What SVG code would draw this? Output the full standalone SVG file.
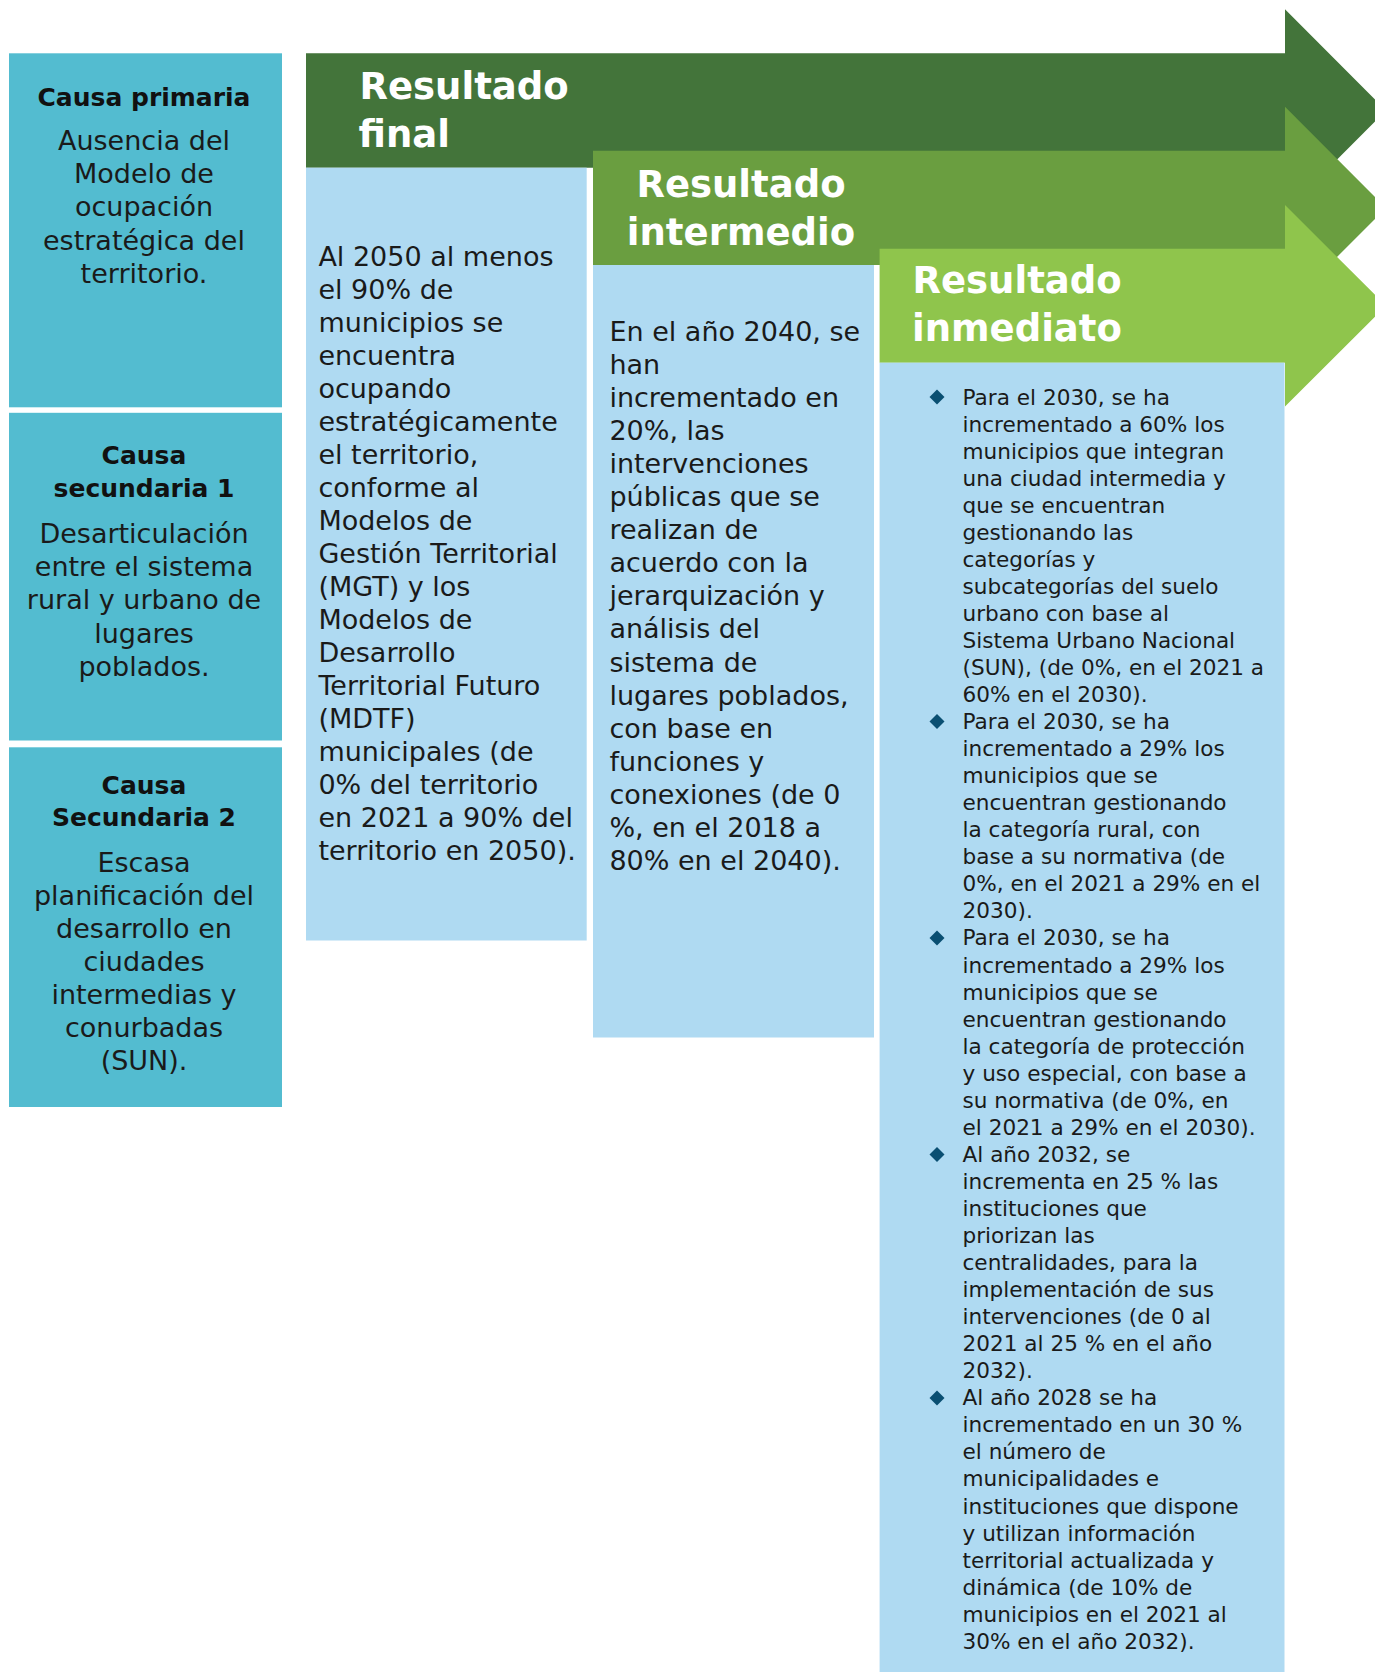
<svg xmlns="http://www.w3.org/2000/svg" width="1375" height="1672" viewBox="0 0 1375 1672">
<style>
.cause{fill:#53BCD0}
.blue{fill:#AFDAF2}
.g1{fill:#43743A}
.g2{fill:#6A9E40}
.g3{fill:#8FC54C}
.ch{font-family:'DejaVu Sans',sans-serif;font-weight:bold;font-size:25px;fill:#111;text-anchor:middle}
.cb{font-family:'DejaVu Sans',sans-serif;font-size:27px;fill:#1a1a1a;text-anchor:middle}
.hd{font-family:'DejaVu Sans',sans-serif;font-weight:bold;font-size:37px;fill:#fff}
.bd{font-family:'DejaVu Sans',sans-serif;font-size:27px;fill:#1a1a1a}
.bl{font-family:'DejaVu Sans',sans-serif;font-size:21.6px;fill:#1a1a1a}
.dm{fill:#0A4F72}
</style>
<defs>
<path id="diamond" d="M0,-7.5 L7.5,0 L0,7.5 L-7.5,0 Z"/>
</defs>
<rect width="1375" height="1672" fill="#fff"/>

<g id="causa-primaria">
<rect class="cause" x="9" y="53.3" width="273" height="354"/>
<text class="ch" x="144" y="106">Causa primaria</text>
<text class="cb"><tspan x="144" y="150">Ausencia del</tspan><tspan x="144" dy="33.2">Modelo de</tspan><tspan x="144" dy="33.2">ocupación</tspan><tspan x="144" dy="33.2">estratégica del</tspan><tspan x="144" dy="33.2">territorio.</tspan></text>
</g>

<g id="causa-secundaria-1">
<rect class="cause" x="9" y="412.8" width="273" height="327.7"/>
<text class="ch"><tspan x="144" y="464.3">Causa</tspan><tspan x="144" dy="33">secundaria 1</tspan></text>
<text class="cb"><tspan x="144" y="543.2">Desarticulación</tspan><tspan x="144" dy="33.1">entre el sistema</tspan><tspan x="144" dy="33.1">rural y urbano de</tspan><tspan x="144" dy="33.1">lugares</tspan><tspan x="144" dy="33.1">poblados.</tspan></text>
</g>

<g id="causa-secundaria-2">
<rect class="cause" x="9" y="747.3" width="273" height="359.7"/>
<text class="ch"><tspan x="144" y="793.5">Causa</tspan><tspan x="144" dy="32.5">Secundaria 2</tspan></text>
<text class="cb"><tspan x="144" y="871.5">Escasa</tspan><tspan x="144" dy="33.1">planificación del</tspan><tspan x="144" dy="33.1">desarrollo en</tspan><tspan x="144" dy="33.1">ciudades</tspan><tspan x="144" dy="33.1">intermedias y</tspan><tspan x="144" dy="33.1">conurbadas</tspan><tspan x="144" dy="33.1">(SUN).</tspan></text>
</g>

<g id="resultado-final">
<polygon class="g1" points="306,53.3 1285,53.3 1285,9.3 1386,110.5 1285,211.7 1285,167.7 306,167.7"/>
<rect class="blue" x="306" y="167.7" width="280.7" height="772.8"/>
<text class="hd"><tspan x="359.5" y="99.3">Resultado</tspan><tspan x="358.5" y="146.7">final</tspan></text>
<text class="bd"><tspan x="318.4" y="265.7">Al 2050 al menos</tspan><tspan x="318.4" dy="33.04">el 90% de</tspan><tspan x="318.4" dy="33.04">municipios se</tspan><tspan x="318.4" dy="33.04">encuentra</tspan><tspan x="318.4" dy="33.04">ocupando</tspan><tspan x="318.4" dy="33.04">estratégicamente</tspan><tspan x="318.4" dy="33.04">el territorio,</tspan><tspan x="318.4" dy="33.04">conforme al</tspan><tspan x="318.4" dy="33.04">Modelos de</tspan><tspan x="318.4" dy="33.04">Gestión Territorial</tspan><tspan x="318.4" dy="33.04">(MGT) y los</tspan><tspan x="318.4" dy="33.04">Modelos de</tspan><tspan x="318.4" dy="33.04">Desarrollo</tspan><tspan x="318.4" dy="33.04">Territorial Futuro</tspan><tspan x="318.4" dy="33.04">(MDTF)</tspan><tspan x="318.4" dy="33.04">municipales (de</tspan><tspan x="318.4" dy="33.04">0% del territorio</tspan><tspan x="318.4" dy="33.04">en 2021 a 90% del</tspan><tspan x="318.4" dy="33.04">territorio en 2050).</tspan></text>
</g>

<g id="resultado-intermedio">
<polygon class="g2" points="593,150.7 1285,150.7 1285,106.7 1386,207.9 1285,309.1 1285,265 593,265"/>
<rect class="blue" x="593" y="265" width="281" height="772.5"/>
<text class="hd" text-anchor="middle"><tspan x="741" y="197.3">Resultado</tspan><tspan x="741" y="245">intermedio</tspan></text>
<text class="bd"><tspan x="609.4" y="341.2">En el año 2040, se</tspan><tspan x="609.4" dy="33.03">han</tspan><tspan x="609.4" dy="33.03">incrementado en</tspan><tspan x="609.4" dy="33.03">20%, las</tspan><tspan x="609.4" dy="33.03">intervenciones</tspan><tspan x="609.4" dy="33.03">públicas que se</tspan><tspan x="609.4" dy="33.03">realizan de</tspan><tspan x="609.4" dy="33.03">acuerdo con la</tspan><tspan x="609.4" dy="33.03">jerarquización y</tspan><tspan x="609.4" dy="33.03">análisis del</tspan><tspan x="609.4" dy="33.03">sistema de</tspan><tspan x="609.4" dy="33.03">lugares poblados,</tspan><tspan x="609.4" dy="33.03">con base en</tspan><tspan x="609.4" dy="33.03">funciones y</tspan><tspan x="609.4" dy="33.03">conexiones (de 0</tspan><tspan x="609.4" dy="33.03">%, en el 2018 a</tspan><tspan x="609.4" dy="33.03">80% en el 2040).</tspan></text>
</g>

<g id="resultado-inmediato">
<polygon class="g3" points="879.6,248.7 1285,248.7 1285,205 1386,305.8 1285,406.6 1285,362.7 879.6,362.7"/>
<rect class="blue" x="879.6" y="362.7" width="404.9" height="1309.3"/>
<text class="hd"><tspan x="912.5" y="293.3">Resultado</tspan><tspan x="912" y="340.7">inmediato</tspan></text>
<use href="#diamond" class="dm" x="937" y="397"/>
<use href="#diamond" class="dm" x="937" y="721.6"/>
<use href="#diamond" class="dm" x="937" y="938"/>
<use href="#diamond" class="dm" x="937" y="1154.4"/>
<use href="#diamond" class="dm" x="937" y="1397.9"/>
<text class="bl"><tspan x="962.5" y="404.5">Para el 2030, se ha</tspan><tspan x="962.5" dy="27.05">incrementado a 60% los</tspan><tspan x="962.5" dy="27.05">municipios que integran</tspan><tspan x="962.5" dy="27.05">una ciudad intermedia y</tspan><tspan x="962.5" dy="27.05">que se encuentran</tspan><tspan x="962.5" dy="27.05">gestionando las</tspan><tspan x="962.5" dy="27.05">categorías y</tspan><tspan x="962.5" dy="27.05">subcategorías del suelo</tspan><tspan x="962.5" dy="27.05">urbano con base al</tspan><tspan x="962.5" dy="27.05">Sistema Urbano Nacional</tspan><tspan x="962.5" dy="27.05">(SUN), (de 0%, en el 2021 a</tspan><tspan x="962.5" dy="27.05">60% en el 2030).</tspan><tspan x="962.5" dy="27.05">Para el 2030, se ha</tspan><tspan x="962.5" dy="27.05">incrementado a 29% los</tspan><tspan x="962.5" dy="27.05">municipios que se</tspan><tspan x="962.5" dy="27.05">encuentran gestionando</tspan><tspan x="962.5" dy="27.05">la categoría rural, con</tspan><tspan x="962.5" dy="27.05">base a su normativa (de</tspan><tspan x="962.5" dy="27.05">0%, en el 2021 a 29% en el</tspan><tspan x="962.5" dy="27.05">2030).</tspan><tspan x="962.5" dy="27.05">Para el 2030, se ha</tspan><tspan x="962.5" dy="27.05">incrementado a 29% los</tspan><tspan x="962.5" dy="27.05">municipios que se</tspan><tspan x="962.5" dy="27.05">encuentran gestionando</tspan><tspan x="962.5" dy="27.05">la categoría de protección</tspan><tspan x="962.5" dy="27.05">y uso especial, con base a</tspan><tspan x="962.5" dy="27.05">su normativa (de 0%, en</tspan><tspan x="962.5" dy="27.05">el 2021 a 29% en el 2030).</tspan><tspan x="962.5" dy="27.05">Al año 2032, se</tspan><tspan x="962.5" dy="27.05">incrementa en 25 % las</tspan><tspan x="962.5" dy="27.05">instituciones que</tspan><tspan x="962.5" dy="27.05">priorizan las</tspan><tspan x="962.5" dy="27.05">centralidades, para la</tspan><tspan x="962.5" dy="27.05">implementación de sus</tspan><tspan x="962.5" dy="27.05">intervenciones (de 0 al</tspan><tspan x="962.5" dy="27.05">2021 al 25 % en el año</tspan><tspan x="962.5" dy="27.05">2032).</tspan><tspan x="962.5" dy="27.05">Al año 2028 se ha</tspan><tspan x="962.5" dy="27.05">incrementado en un 30 %</tspan><tspan x="962.5" dy="27.05">el número de</tspan><tspan x="962.5" dy="27.05">municipalidades e</tspan><tspan x="962.5" dy="27.05">instituciones que dispone</tspan><tspan x="962.5" dy="27.05">y utilizan información</tspan><tspan x="962.5" dy="27.05">territorial actualizada y</tspan><tspan x="962.5" dy="27.05">dinámica (de 10% de</tspan><tspan x="962.5" dy="27.05">municipios en el 2021 al</tspan><tspan x="962.5" dy="27.05">30% en el año 2032).</tspan></text>
</g>

<g id="connectors"/>
</svg>
